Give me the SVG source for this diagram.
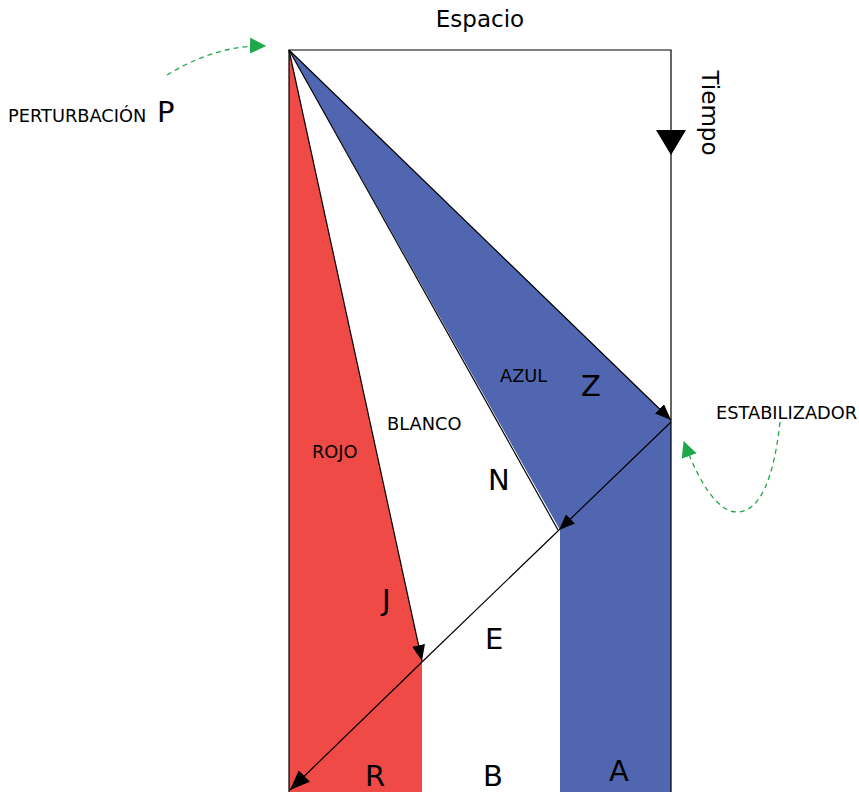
<svg xmlns="http://www.w3.org/2000/svg" width="859" height="792" viewBox="0 0 859 792">
<style>
text{font-family:"DejaVu Sans","Liberation Sans",sans-serif;fill:#000}
.sm{font-size:17.8px}
.md{font-size:23px}
.lg{font-size:29px}
.ln{stroke:#000;stroke-width:1.2;fill:none}
.gr{stroke:#1fa84a;stroke-width:1.3;fill:none;stroke-dasharray:5 4}
</style>
<defs>
<marker id="ah" markerUnits="userSpaceOnUse" markerWidth="17" markerHeight="13" refX="16" refY="6.5" orient="auto"><path d="M0,0 L16,6.5 L0,13 z" fill="#000"/></marker>
<marker id="ahb" markerUnits="userSpaceOnUse" markerWidth="21" markerHeight="16" refX="20" refY="8" orient="auto"><path d="M0,0 L20,8 L0,16 z" fill="#000"/></marker>
<marker id="ahg" markerUnits="userSpaceOnUse" markerWidth="17" markerHeight="16" refX="15" refY="8" orient="auto"><path d="M0,0 L16,8 L0,16 z" fill="#1fa84a"/></marker>
</defs>
<g id="regions">
<polygon id="rojo" points="289,50 422,661 422,792 289,792" fill="#f04a46"/>
<polygon id="azul" points="289,50 671,420 671,792 560,792 560,530" fill="#5066b0"/>
</g>
<g id="frame">
<path class="ln" d="M289,792 L289,50 L671,50 L671,792"/>
<polygon points="656,130 686,130 671,155" fill="#000"/>
</g>
<g id="connectors">
<line class="ln" x1="289" y1="50" x2="671" y2="420" marker-end="url(#ah)"/>
<line class="ln" x1="289" y1="50" x2="558" y2="530"/>
<line class="ln" x1="289" y1="50" x2="422" y2="661" marker-end="url(#ah)"/>
<line class="ln" x1="671" y1="422" x2="559" y2="530" marker-end="url(#ah)"/>
<line class="ln" x1="559" y1="530" x2="422" y2="662"/>
<line class="ln" x1="422" y1="662" x2="290" y2="790" marker-end="url(#ahb)"/>
<path class="gr" d="M167,75 C195,58 228,45 265,46" marker-end="url(#ahg)"/>
<path class="gr" d="M780,422 C774,478 760,512 737,512 C717,512 698,480 684,442" marker-end="url(#ahg)"/>
</g>
<g id="labels">
<text class="md" x="480" y="27" text-anchor="middle">Espacio</text>
<text class="md" transform="translate(702,113) rotate(90)" text-anchor="middle">Tiempo</text>
<text class="sm" x="8" y="122">PERTURBACIÓN</text>
<text class="lg" x="157" y="122">P</text>
<text class="sm" x="716" y="419">ESTABILIZADOR</text>
<text class="sm" x="500" y="382">AZUL</text>
<text class="lg" x="581" y="396">Z</text>
<text class="sm" x="387" y="430">BLANCO</text>
<text class="sm" x="312" y="458">ROJO</text>
<text class="lg" x="488" y="490">N</text>
<text class="lg" x="382" y="610">J</text>
<text class="lg" x="485" y="649">E</text>
<text class="lg" x="365" y="786">R</text>
<text class="lg" x="483" y="786">B</text>
<text class="lg" x="609" y="781">A</text>
</g>
</svg>
